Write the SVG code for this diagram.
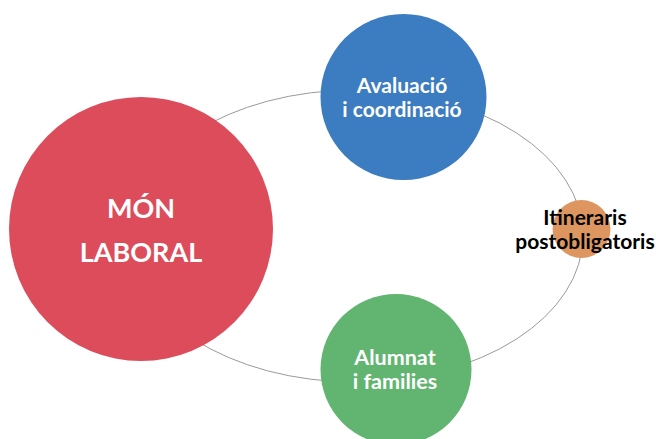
<svg xmlns="http://www.w3.org/2000/svg" width="656" height="439" viewBox="0 0 656 439">
<style>
.t{font-family:Lato,"Open Sans","Liberation Sans",sans-serif;font-weight:bold;text-anchor:middle}
.w{fill:#ffffff}
.k{fill:#000000}
</style>
<rect width="656" height="439" fill="#ffffff"/>
<g id="connectors">
<ellipse cx="355" cy="236" rx="228" ry="146" fill="none" stroke="#9a9a9a" stroke-width="1"/>
</g>
<g id="mon-laboral">
<circle cx="141" cy="229" r="132" fill="#DC4C5B"/>
<text class="t w" x="141" y="218" font-size="27">MÓN</text>
<text class="t w" x="141" y="262" font-size="27">LABORAL</text>
</g>
<g id="avaluacio">
<circle cx="403.5" cy="97" r="83" fill="#3C7CC0"/>
<text class="t w" x="402" y="93" font-size="21">Avaluació</text>
<text class="t w" x="402" y="117" font-size="21">i coordinació</text>
</g>
<g id="itineraris">
<circle cx="581.5" cy="229" r="29" fill="#DE9660"/>
<text class="t k" x="585" y="225" font-size="21">Itineraris</text>
<text class="t k" x="585" y="249" font-size="21">postobligatoris</text>
</g>
<g id="alumnat">
<circle cx="396" cy="369.5" r="75.5" fill="#62B571"/>
<text class="t w" x="395" y="365" font-size="21.5">Alumnat</text>
<text class="t w" x="395" y="389" font-size="21.5">i families</text>
</g>
</svg>
